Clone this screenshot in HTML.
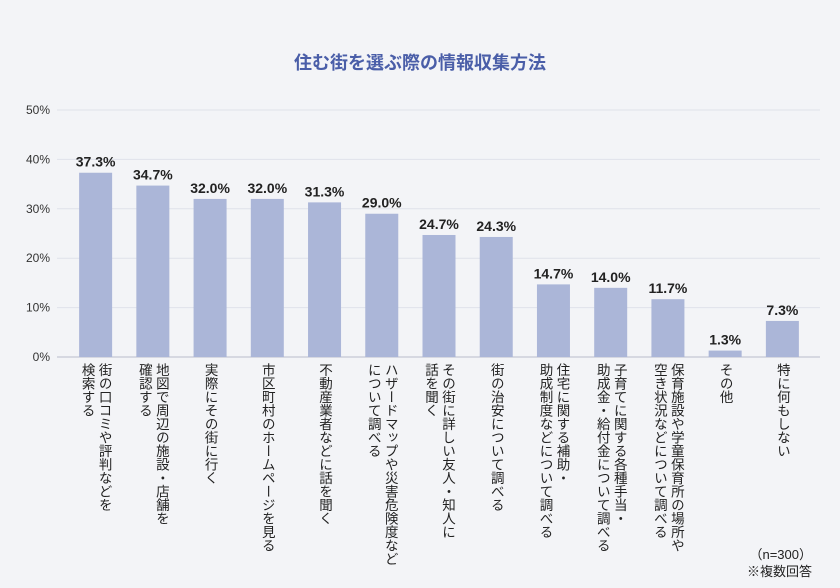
<!DOCTYPE html>
<html><head><meta charset="utf-8"><style>
body{margin:0;width:840px;height:588px;background:#f3f4f7;font-family:"Liberation Sans","Noto Sans CJK JP",sans-serif;overflow:hidden}
svg{position:absolute;left:0;top:0}
.lbl{position:absolute;top:363px;writing-mode:vertical-rl;font-size:13.5px;line-height:17px;color:#222;white-space:pre;transform:translateX(-50%)}
</style></head><body>
<svg id="c" width="840" height="588">
<text x="420" y="69" text-anchor="middle" font-size="18" font-weight="bold" fill="#4a5ea8">住む街を選ぶ際の情報収集方法</text>
<text x="812" y="559" text-anchor="end" font-size="13" fill="#222">（n=300）</text>
<text x="812" y="576" text-anchor="end" font-size="13" fill="#222">※複数回答</text>
</svg>
<div id="labels"></div>
<script>
const categories=["街の口コミや評判などを\n検索する","地図で周辺の施設・店舗を\n確認する","実際にその街に行く","市区町村のホームページを見る","不動産業者などに話を聞く","ハザードマップや災害危険度など\nについて調べる","その街に詳しい友人・知人に\n話を聞く","街の治安について調べる","住宅に関する補助・\n助成制度などについて調べる","子育てに関する各種手当・\n助成金・給付金について調べる","保育施設や学童保育所の場所や\n空き状況などについて調べる","その他","特に何もしない"];
const values=[37.3,34.7,32.0,32.0,31.3,29.0,24.7,24.3,14.7,14.0,11.7,1.3,7.3];
const ticks=[0,10,20,30,40,50];
const NS="http://www.w3.org/2000/svg",svg=document.getElementById('c');
const x0=67,x1=811,y0=357,y1=110,band=(x1-x0)/categories.length,bw=33;
const y=v=>y0-(v/50)*(y0-y1);
const xc=i=>x0+band*(i+0.5);
function mk(t,a){const e=document.createElementNS(NS,t);for(const k in a)e.setAttribute(k,a[k]);svg.appendChild(e);return e;}
ticks.forEach(t=>{
 const l=mk('line',{x1:57,x2:820,y1:y(t),y2:y(t),stroke:t===0?'#b8bccb':'#dfe2ea','stroke-width':1});
 
 
 const tx=mk('text',{x:50,y:y(t)+4,'text-anchor':'end','font-size':12,fill:'#333'});
 tx.textContent=t+'%';
 
 
});
const lab=document.getElementById('labels');
values.forEach((v,i)=>{
 const r=mk('rect',{x:xc(i)-bw/2,y:y(v),width:bw,height:y0-y(v),fill:'#abb6d8'});
 
 
 const t=mk('text',{x:xc(i),y:y(v)-6,'text-anchor':'middle','font-size':14,'font-weight':'bold',fill:'#222'});
 t.textContent=v.toFixed(1)+'%';
 
 
 const d=document.createElement('div');
 d.className='lbl';d.style.left=xc(i)+'px';d.textContent=categories[i];
 
 
 lab.appendChild(d);
});
</script>
</body></html>
